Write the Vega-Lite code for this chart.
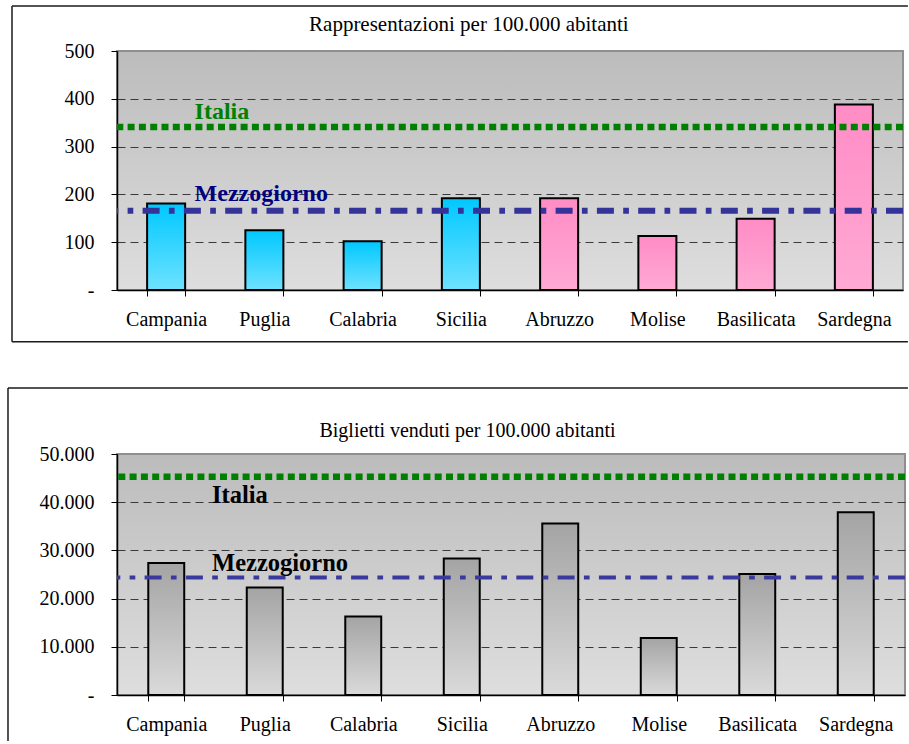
{
  "$schema": "https://vega.github.io/schema/vega-lite/v6.json",
  "background": "white",
  "padding": {"left": 6, "top": 4, "right": 0, "bottom": 0},
  "spacing": 42,
  "config": {
    "font": "Liberation Serif",
    "axis": {"labelFont": "Liberation Serif", "labelFontSize": 20, "labelColor": "black"}
  },
  "datasets": {
    "top": [
      {"regione": "Campania", "gruppo": "Convergenza", "valore": 181},
      {"regione": "Puglia", "gruppo": "Convergenza", "valore": 125},
      {"regione": "Calabria", "gruppo": "Convergenza", "valore": 102},
      {"regione": "Sicilia", "gruppo": "Convergenza", "valore": 192},
      {"regione": "Abruzzo", "gruppo": "Altre", "valore": 192},
      {"regione": "Molise", "gruppo": "Altre", "valore": 113},
      {"regione": "Basilicata", "gruppo": "Altre", "valore": 149},
      {"regione": "Sardegna", "gruppo": "Altre", "valore": 388}
    ],
    "topRef": [
      {"riferimento": "Italia", "valore": 341},
      {"riferimento": "Mezzogiorno", "valore": 166}
    ],
    "bottom": [
      {"regione": "Campania", "valore": 27400},
      {"regione": "Puglia", "valore": 22300},
      {"regione": "Calabria", "valore": 16300},
      {"regione": "Sicilia", "valore": 28300},
      {"regione": "Abruzzo", "valore": 35600},
      {"regione": "Molise", "valore": 11800},
      {"regione": "Basilicata", "valore": 25100},
      {"regione": "Sardegna", "valore": 37900}
    ],
    "bottomRef": [
      {"riferimento": "Italia", "valore": 45300},
      {"riferimento": "Mezzogiorno", "valore": 24400}
    ]
  },
  "vconcat": [
    {
      "width": 786,
      "height": 239,
      "view": {
        "fill": {"gradient": "linear", "x1": 0, "y1": 0, "x2": 0, "y2": 1, "stops": [{"offset": 0, "color": "#bcbcbc"}, {"offset": 1, "color": "#dedede"}]},
        "stroke": "#8f8f8f",
        "strokeWidth": 2
      },
      "resolve": {"scale": {"x": "independent"}},
      "layer": [
        {
          "layer": [
            {
              "data": {"name": "top"},
              "transform": [{"filter": "datum.gruppo === 'Convergenza'"}],
              "mark": {"type": "bar", "color": {"gradient": "linear", "x1": 0, "y1": 0, "x2": 0, "y2": 1, "stops": [{"offset": 0, "color": "#00c8ff"}, {"offset": 1, "color": "#6ee2ff"}]}, "stroke": "black", "strokeWidth": 2},
              "encoding": {
                "x": {"field": "regione", "type": "nominal",
                  "scale": {"domain": ["Campania", "Puglia", "Calabria", "Sicilia", "Abruzzo", "Molise", "Basilicata", "Sardegna"], "paddingInner": 0.613, "paddingOuter": 0.3065},
                  "axis": {"title": null, "labelAngle": 0, "tickBand": "extent", "domainColor": "black", "domainWidth": 1.5, "tickColor": "black", "tickSize": 6, "tickWidth": 1, "labelPadding": 13, "zindex": 1}},
                "y": {"field": "valore", "type": "quantitative", "scale": {"domain": [0, 500]},
                  "axis": {"title": null, "values": [0, 100, 200, 300, 400, 500], "labelExpr": "datum.value === 0 ? '-\u00a0\u00a0\u00a0\u00a0\u00a0' : datum.label", "domainColor": "black", "domainWidth": 1.5, "tickColor": "black", "tickSize": 6, "tickWidth": 1, "labelPadding": 17, "grid": true, "gridColor": "#3a3a3a", "gridDash": [8, 5], "gridWidth": 1, "gridOpacity": {"condition": {"test": "datum.value === 0 || datum.value === 500", "value": 0}, "value": 1}}}
              }
            },
            {
              "data": {"name": "top"},
              "transform": [{"filter": "datum.gruppo !== 'Convergenza'"}],
              "mark": {"type": "bar", "color": {"gradient": "linear", "x1": 0, "y1": 0, "x2": 0, "y2": 1, "stops": [{"offset": 0, "color": "#ff8cc6"}, {"offset": 1, "color": "#ffaad4"}]}, "stroke": "black", "strokeWidth": 2},
              "encoding": {
                "x": {"field": "regione", "type": "nominal"},
                "y": {"field": "valore", "type": "quantitative", "scale": {"domain": [0, 500]}}
              }
            },
            {
              "data": {"name": "topRef"},
              "transform": [{"filter": "datum.riferimento === 'Italia'"}],
              "mark": {"type": "rule", "color": "#008000", "strokeWidth": 6.5, "strokeDash": [7, 4.3]},
              "encoding": {"y": {"field": "valore", "type": "quantitative", "scale": {"domain": [0, 500]}}}
            },
            {
              "data": {"name": "topRef"},
              "transform": [{"filter": "datum.riferimento === 'Mezzogiorno'"}],
              "mark": {"type": "rule", "color": "#333399", "strokeWidth": 6, "strokeDash": [17, 9.3, 5.7, 9.3]},
              "encoding": {"y": {"field": "valore", "type": "quantitative", "scale": {"domain": [0, 500]}}}
            }
          ]
        },
        {
          "layer": [
            {
              "data": {"values": [{}]},
              "mark": {"type": "rule", "color": "#1a1a1a", "strokeWidth": 1.5},
              "encoding": {
                "x": {"datum": -1.0687, "type": "quantitative", "scale": {"domain": [0, 8], "nice": false, "zero": false}, "axis": null},
                "x2": {"datum": 8.05},
                "y": {"datum": 594.1, "type": "quantitative", "scale": {"domain": [0, 500]}}
              }
            },
            {
              "data": {"values": [{}]},
              "mark": {"type": "rule", "color": "#1a1a1a", "strokeWidth": 1.5},
              "encoding": {
                "x": {"datum": -1.0687, "type": "quantitative", "scale": {"domain": [0, 8], "nice": false, "zero": false}, "axis": null},
                "x2": {"datum": 8.05},
                "y": {"datum": -108.2, "type": "quantitative", "scale": {"domain": [0, 500]}}
              }
            },
            {
              "data": {"values": [{}]},
              "mark": {"type": "rule", "color": "#1a1a1a", "strokeWidth": 1.5},
              "encoding": {
                "x": {"datum": -1.0687, "type": "quantitative", "scale": {"domain": [0, 8], "nice": false, "zero": false}, "axis": null},
                "y": {"datum": 594.1, "type": "quantitative", "scale": {"domain": [0, 500]}},
                "y2": {"datum": -108.2}
              }
            },
            {
              "data": {"values": [{"titolo": "Rappresentazioni per 100.000 abitanti"}]},
              "mark": {"type": "text", "font": "Liberation Serif", "fontSize": 21, "align": "center", "baseline": "alphabetic", "color": "black"},
              "encoding": {
                "text": {"field": "titolo"},
                "x": {"datum": 3.581, "type": "quantitative", "scale": {"domain": [0, 8], "nice": false, "zero": false}, "axis": null},
                "y": {"datum": 541.8, "type": "quantitative", "scale": {"domain": [0, 500]}}
              }
            },
            {
              "data": {"name": "topRef"},
              "transform": [{"filter": "datum.riferimento === 'Italia'"}],
              "mark": {"type": "text", "font": "Liberation Serif", "fontSize": 24, "fontWeight": "bold", "align": "left", "baseline": "alphabetic", "color": "#008000", "dy": -8},
              "encoding": {
                "text": {"field": "riferimento"},
                "x": {"datum": 0.79, "type": "quantitative", "scale": {"domain": [0, 8], "nice": false, "zero": false}, "axis": null},
                "y": {"field": "valore", "type": "quantitative", "scale": {"domain": [0, 500]}}
              }
            },
            {
              "data": {"name": "topRef"},
              "transform": [{"filter": "datum.riferimento === 'Mezzogiorno'"}],
              "mark": {"type": "text", "font": "Liberation Serif", "fontSize": 24, "fontWeight": "bold", "align": "left", "baseline": "alphabetic", "color": "#000080", "dy": -10},
              "encoding": {
                "text": {"field": "riferimento"},
                "x": {"datum": 0.79, "type": "quantitative", "scale": {"domain": [0, 8], "nice": false, "zero": false}, "axis": null},
                "y": {"field": "valore", "type": "quantitative", "scale": {"domain": [0, 500]}}
              }
            }
          ]
        }
      ]
    },
    {
      "width": 788,
      "height": 241,
      "view": {
        "fill": {"gradient": "linear", "x1": 0, "y1": 0, "x2": 0, "y2": 1, "stops": [{"offset": 0, "color": "#bcbcbc"}, {"offset": 1, "color": "#dedede"}]},
        "stroke": "#8f8f8f",
        "strokeWidth": 2
      },
      "resolve": {"scale": {"x": "independent"}},
      "layer": [
        {
          "layer": [
            {
              "data": {"name": "bottom"},
              "mark": {"type": "bar", "color": {"gradient": "linear", "x1": 0, "y1": 0, "x2": 0, "y2": 1, "stops": [{"offset": 0, "color": "#a4a4a4"}, {"offset": 1, "color": "#dadada"}]}, "stroke": "black", "strokeWidth": 2},
              "encoding": {
                "x": {"field": "regione", "type": "nominal",
                  "scale": {"domain": ["Campania", "Puglia", "Calabria", "Sicilia", "Abruzzo", "Molise", "Basilicata", "Sardegna"], "paddingInner": 0.635, "paddingOuter": 0.3175},
                  "axis": {"title": null, "labelAngle": 0, "tickBand": "extent", "domainColor": "black", "domainWidth": 1.5, "tickColor": "black", "tickSize": 6, "tickWidth": 1, "labelPadding": 13, "zindex": 1}},
                "y": {"field": "valore", "type": "quantitative", "scale": {"domain": [0, 50000]},
                  "axis": {"title": null, "values": [0, 10000, 20000, 30000, 40000, 50000], "labelExpr": "datum.value === 0 ? '-' : replace(format(datum.value, ','), ',', '.')", "domainColor": "black", "domainWidth": 1.5, "tickColor": "black", "tickSize": 6, "tickWidth": 1, "labelPadding": 17, "grid": true, "gridColor": "#3a3a3a", "gridDash": [8, 5], "gridWidth": 1, "gridOpacity": {"condition": {"test": "datum.value === 0 || datum.value === 50000", "value": 0}, "value": 1}}}
              }
            },
            {
              "data": {"name": "bottomRef"},
              "transform": [{"filter": "datum.riferimento === 'Italia'"}],
              "mark": {"type": "rule", "color": "#008000", "strokeWidth": 6.5, "strokeDash": [7, 4.3]},
              "encoding": {"y": {"field": "valore", "type": "quantitative", "scale": {"domain": [0, 50000]}}}
            },
            {
              "data": {"name": "bottomRef"},
              "transform": [{"filter": "datum.riferimento === 'Mezzogiorno'"}],
              "mark": {"type": "rule", "color": "#3a3a9e", "strokeWidth": 4, "strokeDash": [17, 9.3, 5.7, 9.3]},
              "encoding": {"y": {"field": "valore", "type": "quantitative", "scale": {"domain": [0, 50000]}}}
            }
          ]
        },
        {
          "layer": [
            {
              "data": {"values": [{}]},
              "mark": {"type": "rule", "color": "#1a1a1a", "strokeWidth": 1.5},
              "encoding": {
                "x": {"datum": -1.1066, "type": "quantitative", "scale": {"domain": [0, 8], "nice": false, "zero": false}, "axis": null},
                "x2": {"datum": 8.03},
                "y": {"datum": 63693, "type": "quantitative", "scale": {"domain": [0, 50000]}}
              }
            },
            {
              "data": {"values": [{}]},
              "mark": {"type": "rule", "color": "#1a1a1a", "strokeWidth": 1.5},
              "encoding": {
                "x": {"datum": -1.1066, "type": "quantitative", "scale": {"domain": [0, 8], "nice": false, "zero": false}, "axis": null},
                "y": {"datum": 63693, "type": "quantitative", "scale": {"domain": [0, 50000]}},
                "y2": {"datum": -9544}
              }
            },
            {
              "data": {"values": [{"titolo": "Biglietti venduti per 100.000 abitanti"}]},
              "mark": {"type": "text", "font": "Liberation Serif", "fontSize": 20, "align": "center", "baseline": "alphabetic", "color": "black"},
              "encoding": {
                "text": {"field": "titolo"},
                "x": {"datum": 3.558, "type": "quantitative", "scale": {"domain": [0, 8], "nice": false, "zero": false}, "axis": null},
                "y": {"datum": 53465, "type": "quantitative", "scale": {"domain": [0, 50000]}}
              }
            },
            {
              "data": {"name": "bottomRef"},
              "transform": [{"filter": "datum.riferimento === 'Italia'"}],
              "mark": {"type": "text", "font": "Liberation Serif", "fontSize": 24.5, "fontWeight": "bold", "align": "left", "baseline": "alphabetic", "color": "black", "dy": 26},
              "encoding": {
                "text": {"field": "riferimento"},
                "x": {"datum": 0.965, "type": "quantitative", "scale": {"domain": [0, 8], "nice": false, "zero": false}, "axis": null},
                "y": {"field": "valore", "type": "quantitative", "scale": {"domain": [0, 50000]}}
              }
            },
            {
              "data": {"name": "bottomRef"},
              "transform": [{"filter": "datum.riferimento === 'Mezzogiorno'"}],
              "mark": {"type": "text", "font": "Liberation Serif", "fontSize": 24.5, "fontWeight": "bold", "align": "left", "baseline": "alphabetic", "color": "black", "dy": -6},
              "encoding": {
                "text": {"field": "riferimento"},
                "x": {"datum": 0.965, "type": "quantitative", "scale": {"domain": [0, 8], "nice": false, "zero": false}, "axis": null},
                "y": {"field": "valore", "type": "quantitative", "scale": {"domain": [0, 50000]}}
              }
            }
          ]
        }
      ]
    }
  ]
}
